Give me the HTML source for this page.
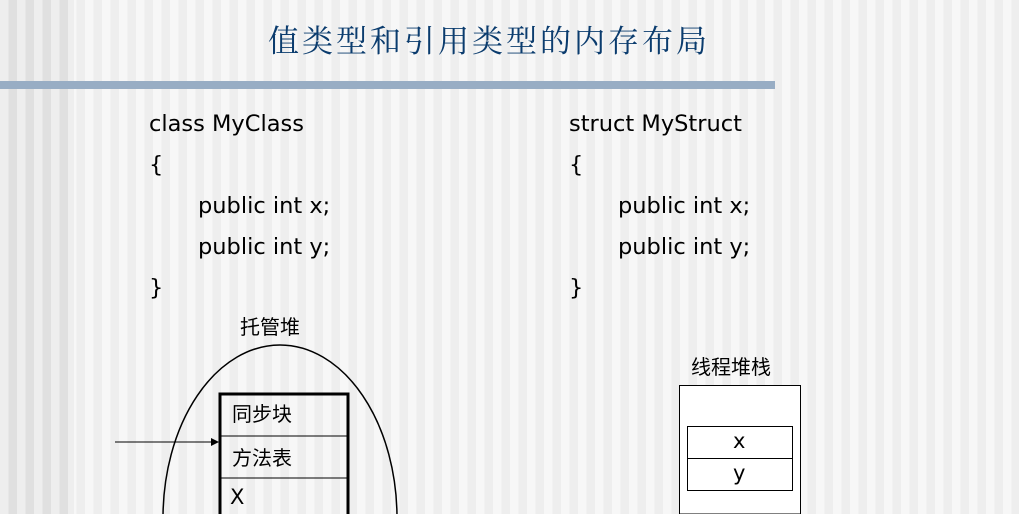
<!DOCTYPE html>
<html><head><meta charset="utf-8"><style>
html,body{margin:0;padding:0;width:1019px;height:514px;overflow:hidden}
body{position:relative;
background:repeating-linear-gradient(90deg,#f7f7f7 0,#f7f7f7 8.5px,#eeeeee 8.5px,#eeeeee 17px);}
.left{position:absolute;left:0;top:0;width:74px;height:514px;
background:repeating-linear-gradient(90deg,#eeeeee 0,#eeeeee 8.5px,#e0e0e0 8.5px,#e0e0e0 17px);}
.t{position:absolute;font-family:"DejaVu Sans","Liberation Sans",sans-serif;font-size:22.5px;color:#000;line-height:1;white-space:nowrap}
.title{position:absolute;left:268px;top:22px;font-family:"Noto Serif CJK SC",serif;font-size:31px;letter-spacing:3px;color:#0b3c6e;line-height:1.1;white-space:nowrap}
.cjk{position:absolute;font-family:"Noto Sans CJK SC","WenQuanYi Zen Hei",sans-serif;font-size:20px;line-height:1;white-space:nowrap;color:#000}
</style></head><body>
<div class="left"></div>
<div class="title">值类型和引用类型的内存布局</div>
<div style="position:absolute;left:0;top:81px;width:775px;height:8px;background:#98adc4"></div>

<div class="t" style="left:149px;top:113px">class MyClass</div>
<div class="t" style="left:149px;top:154px">{</div>
<div class="t" style="left:198px;top:195px">public int x;</div>
<div class="t" style="left:198px;top:236px">public int y;</div>
<div class="t" style="left:149px;top:277px">}</div>

<div class="t" style="left:569px;top:113px">struct MyStruct</div>
<div class="t" style="left:569px;top:154px">{</div>
<div class="t" style="left:618px;top:195px">public int x;</div>
<div class="t" style="left:618px;top:236px">public int y;</div>
<div class="t" style="left:569px;top:277px">}</div>

<div class="cjk" style="left:240px;top:316px">托管堆</div>
<div class="cjk" style="left:691px;top:356px">线程堆栈</div>

<svg width="1019" height="514" style="position:absolute;left:0;top:0">
<ellipse cx="280" cy="518" rx="117" ry="173" fill="none" stroke="#000" stroke-width="1.5"/>
<path d="M220,514 V394 H348 V514" fill="none" stroke="#000" stroke-width="3"/>
<line x1="220" y1="436" x2="348" y2="436" stroke="#000" stroke-width="1"/>
<line x1="220" y1="478" x2="348" y2="478" stroke="#000" stroke-width="1"/>
<line x1="115" y1="442" x2="212" y2="442" stroke="#000" stroke-width="1"/>
<polygon points="219,442 211,438 211,446" fill="#000"/>
<path d="M679.5,514 V385.5 H800.5 V514 Z" fill="#fff" stroke="#000" stroke-width="1"/>
<rect x="687.5" y="426.5" width="105" height="64" fill="#fff" stroke="#000" stroke-width="1"/>
<line x1="687" y1="458.5" x2="792" y2="458.5" stroke="#000" stroke-width="1"/>
</svg>
<div class="cjk" style="left:232px;top:403px">同步块</div>
<div class="cjk" style="left:232px;top:447px">方法表</div>
<div class="t" style="left:230px;top:487px;font-size:21px">X</div>
<div class="t" style="left:733px;top:431px;font-size:21px">x</div>
<div class="t" style="left:733px;top:463px;font-size:21px">y</div>
</body></html>
